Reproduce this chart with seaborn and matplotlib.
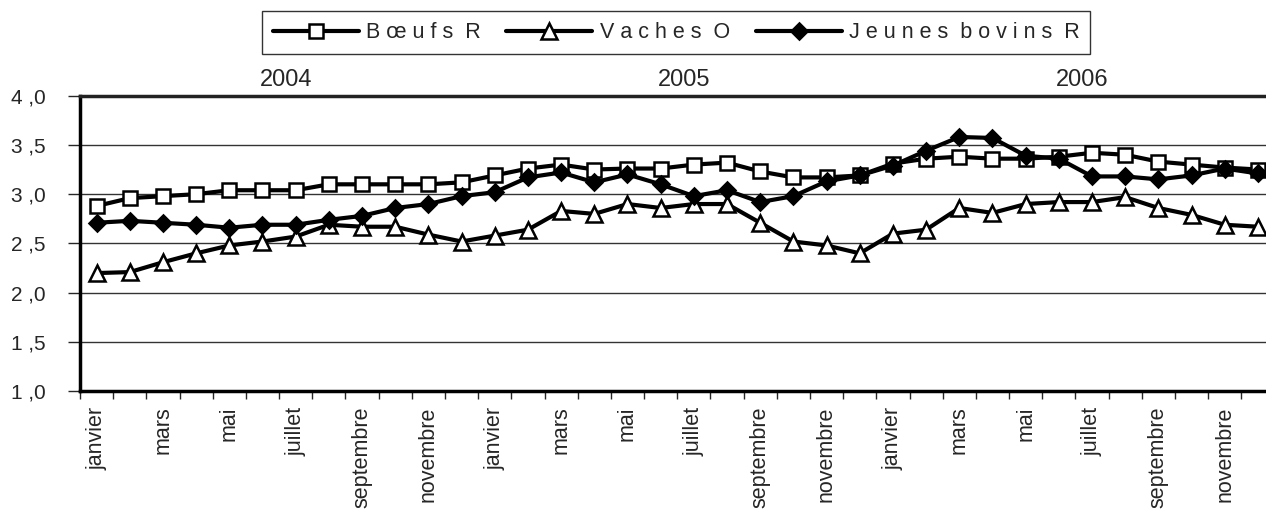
import numpy as np
import pandas as pd
import matplotlib
matplotlib.use("Agg")
import matplotlib.pyplot as plt
import seaborn as sns

# données mensuelles 2004-2006
mois = ["janvier", "février", "mars", "avril", "mai", "juin", "juillet",
        "août", "septembre", "octobre", "novembre", "décembre"]
annees = ["2004", "2005", "2006"]

boeufs_r = [2.88, 2.96, 2.98, 3.00, 3.04, 3.04, 3.04, 3.10, 3.10, 3.10, 3.10, 3.12,
            3.19, 3.26, 3.30, 3.25, 3.26, 3.26, 3.30, 3.32, 3.23, 3.17, 3.17, 3.19,
            3.31, 3.36, 3.38, 3.36, 3.36, 3.38, 3.42, 3.40, 3.33, 3.30, 3.27, 3.25]
vaches_o = [2.20, 2.21, 2.31, 2.40, 2.48, 2.52, 2.57, 2.69, 2.67, 2.67, 2.59, 2.52,
            2.58, 2.64, 2.83, 2.80, 2.90, 2.86, 2.90, 2.90, 2.71, 2.52, 2.48, 2.40,
            2.60, 2.64, 2.86, 2.81, 2.90, 2.92, 2.92, 2.97, 2.86, 2.79, 2.69, 2.67]
jeunes_bovins_r = [2.71, 2.73, 2.71, 2.69, 2.66, 2.69, 2.69, 2.74, 2.78, 2.86, 2.90, 2.98,
                   3.02, 3.17, 3.22, 3.12, 3.20, 3.10, 2.98, 3.04, 2.92, 2.98, 3.13, 3.19,
                   3.29, 3.44, 3.58, 3.57, 3.39, 3.36, 3.18, 3.18, 3.15, 3.19, 3.26, 3.21]

series = [
    ("B œ u f s  R", boeufs_r, "s", "white", 10),
    ("V a c h e s  O", vaches_o, "^", "white", 11),
    ("J e u n e s  b o v i n s  R", jeunes_bovins_r, "D", "black", 8),
]

n = len(annees) * len(mois)
df = pd.DataFrame({"idx": np.arange(n),
                   "mois": mois * len(annees)})

sns.set_style("white")
plt.rcParams['font.family'] = ['Liberation Sans', 'DejaVu Sans']

fig = plt.figure(figsize=(12.66, 5.11), dpi=100)
ax = fig.add_axes([0.0632, 0.234, 0.9435, 0.579])

for nom, vals, mk, fc, ms in series:
    sns.lineplot(x=df["idx"], y=vals, ax=ax, color="black", lw=3,
                 marker=mk, markersize=ms, markerfacecolor=fc,
                 markeredgecolor="black", markeredgewidth=1.8, label=nom)

ax.set_xlim(-0.5, n - 0.5)
ax.set_ylim(1.0, 4.0)
yt = np.arange(1.0, 4.01, 0.5)
ax.set_yticks(yt)
ax.set_yticklabels([f"{v:.1f}".replace(".", " ,") for v in yt], fontsize=15)
ax.tick_params(axis="y", direction="out", length=9, width=1, pad=16, left=True)

ax.set_xticks(df["idx"][::2])
ax.set_xticklabels(df["mois"][::2], rotation=90, fontsize=15.5)
ax.set_xticks(np.arange(-0.5, n, 1), minor=True)
ax.tick_params(axis="x", which="major", length=0, pad=11)
ax.tick_params(axis="x", which="minor", direction="out", length=6, width=1, bottom=True)
ax.set_xlabel("")
ax.set_ylabel("")

for v in yt[1:-1]:
    ax.axhline(v, color="#333333", lw=1, zorder=0)

for s in ["left", "bottom", "top"]:
    ax.spines[s].set_color("black")
    ax.spines[s].set_linewidth(2.5)
ax.spines["top"].set_color("#222222")
ax.spines["right"].set_visible(False)

# années au-dessus du graphique
for i, a in enumerate(annees):
    ax.text(12 * i + 5.7, 1.014, a, transform=ax.get_xaxis_transform(),
            ha="center", va="bottom", fontsize=17)

handles, labels = ax.get_legend_handles_labels()
ax.get_legend().remove()
leg = fig.legend(handles, labels, loc="center", bbox_to_anchor=(0.534, 0.936),
                 ncol=3, fontsize=15.5, frameon=True, fancybox=False,
                 edgecolor="black", handlelength=4.0, handletextpad=0.33,
                 columnspacing=1.2, borderpad=0.5)
leg.get_frame().set_linewidth(1)

fig.savefig("out.png", dpi=100)
